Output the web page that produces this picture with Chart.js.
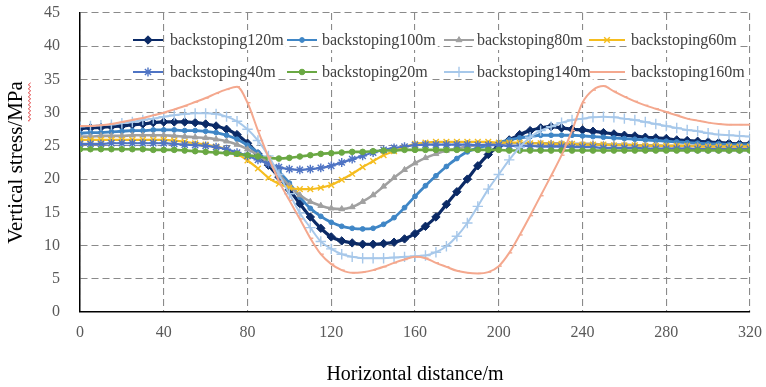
<!DOCTYPE html>
<html>
<head>
<meta charset="utf-8">
<script src="https://cdn.jsdelivr.net/npm/chart.js@4.4.1/dist/chart.umd.min.js"></script>
<style>
  html, body { margin: 0; padding: 0; background: #ffffff; }
  #wrap { width: 766px; height: 387px; }
</style>
</head>
<body>
<div id="wrap"><canvas id="c" width="766" height="387"></canvas></div>
<script>
// Horizontal distance along the working face (m)
const distance = [0,5,10,15,20,25,30,35,40,45,50,55,60,65,70,75,80,85,90,95,100,105,110,115,120,125,130,135,140,145,150,155,160,165,170,175,180,185,190,195,200,205,210,215,220,225,230,235,240,245,250,255,260,265,270,275,280,285,290,295,300,305,310,315,320];

// Vertical stress (MPa) for each backstoping length
const stress120 = [27.6,27.7,27.8,27.9, 28.0,28.2,28.3,28.5, 28.6,28.6,28.6,28.5, 28.3,28.0,27.5,26.7, 25.4,23.8,22.1,20.3, 18.4,16.3,14.3,12.6, 11.3,10.7,10.4,10.2, 10.2,10.3,10.5,11.0, 11.8,12.9,14.3,16.2, 18.1,20.0,22.0,23.7, 25.0,25.9,26.7,27.3, 27.7,27.9,27.7,27.5, 27.4,27.2,27.0,26.8, 26.6,26.5,26.3,26.2, 26.1,25.9,25.8,25.7, 25.6,25.5,25.4,25.3, 25.3];
const stress100 = [26.9,27.0,27.0,27.1, 27.2,27.3,27.3,27.4, 27.4,27.4,27.3,27.3, 27.2,27.0,26.6,26.0, 25.1,24.0,22.6,21.1, 19.4,17.3,15.6,14.4, 13.5,12.9,12.6,12.5, 12.6,13.2,14.2,15.7, 17.4,19.0,20.5,21.9, 23.1,24.1,24.7,25.1, 25.5,25.9,26.2,26.4, 26.6,26.6,26.6,26.6, 26.5,26.4,26.3,26.2, 26.1,26.0,25.9,25.8, 25.7,25.6,25.5,25.4, 25.3,25.3,25.2,25.2, 25.2];
const stress80  = [26.4,26.4,26.5,26.5, 26.5,26.6,26.6,26.6, 26.6,26.5,26.4,26.3, 26.2,26.0,25.7,25.2, 24.5,23.6,22.4,20.7, 19.0,17.6,16.6,16.0, 15.6,15.5,15.8,16.6, 17.6,18.9,20.2,21.4, 22.4,23.2,23.8,24.3, 24.6,24.9,25.1,25.2, 25.3,25.4,25.4,25.4, 25.4,25.4,25.4,25.3, 25.3,25.3,25.2,25.2, 25.2,25.1,25.1,25.1, 25.0,25.0,25.0,25.0, 24.9,24.9,24.9,24.9, 24.9];
const stress60  = [25.9,25.9,25.9,25.9, 25.9,25.9,25.9,25.9, 25.9,25.8,25.6,25.4, 25.2,24.9,24.5,23.8, 22.8,21.6,20.2,19.3, 18.7,18.5,18.5,18.7, 19.1,19.9,20.8,21.8, 22.7,23.6,24.2,24.8, 25.3,25.5,25.6,25.6, 25.6,25.6,25.6,25.6, 25.5,25.5,25.5,25.4, 25.4,25.3,25.3,25.3, 25.2,25.2,25.2,25.1, 25.1,25.1,25.0,25.0, 25.0,25.0,25.0,24.9, 24.9,24.9,24.9,24.9, 24.9];
const stress40  = [25.3,25.3,25.3,25.4, 25.4,25.4,25.4,25.4, 25.4,25.3,25.2,25.1, 25.0,24.8,24.5,24.0, 23.5,22.9,22.3,21.8, 21.5,21.4,21.5,21.7, 22.0,22.5,23.0,23.5, 24.0,24.4,24.7,24.9, 25.1,25.2,25.2,25.2, 25.2,25.2,25.1,25.1, 25.1,25.0,25.0,25.0, 24.9,24.9,24.9,24.8, 24.8,24.8,24.7,24.7, 24.7,24.7,24.6,24.6, 24.6,24.6,24.6,24.5, 24.5,24.5,24.5,24.5, 24.5];
const stress20  = [24.5,24.5,24.5,24.5, 24.5,24.5,24.5,24.4, 24.4,24.4,24.3,24.2, 24.1,24.0,23.9,23.8, 23.6,23.4,23.2,23.1, 23.2,23.4,23.6,23.8, 23.9,24.0,24.1,24.1, 24.2,24.3,24.3,24.4, 24.4,24.4,24.4,24.4, 24.4,24.4,24.4,24.4, 24.4,24.3,24.3,24.3, 24.3,24.3,24.3,24.3, 24.3,24.3,24.3,24.3, 24.3,24.3,24.3,24.3, 24.3,24.3,24.3,24.3, 24.3,24.3,24.3,24.3, 24.3];
const stress140 = [27.9,28.0,28.1,28.2, 28.4,28.6,28.9,29.1, 29.4,29.6,29.8,29.9, 29.9,29.8,29.4,28.7, 27.5,25.8,23.5,20.7, 17.8,14.9,12.7,10.6, 9.5,8.7,8.3,8.1, 8.1,8.1,8.2,8.3, 8.4,8.5,9.0,9.9, 11.4,13.4,15.9,18.5, 20.7,22.9,24.8,26.3, 27.3,27.9,28.5,28.9, 29.1,29.3,29.4,29.3, 29.1,28.9,28.6,28.3, 28.0,27.7,27.4,27.2, 26.9,26.7,26.6,26.5, 26.4];
const stress160 = [28.0,28.0,28.1,28.3, 28.6,28.9,29.2,29.6, 30.0,30.5,31.0,31.6, 32.2,32.9,33.5,33.9, 31.5,27.3,23.3,19.7, 16.8,14.0,11.1,8.7, 7.2,6.3,5.9,6.0, 6.3,6.8,7.4,7.9, 8.3,8.1,7.4,6.8, 6.2,5.9,5.8,6.0, 6.9,8.9,11.6,14.5, 17.5,20.5,23.6,27.3, 31.5,33.4,34.0,33.2, 32.4,31.7,31.1,30.6, 30.1,29.6,29.1,28.8, 28.5,28.3,28.2,28.2, 28.2];

const seriesNames = ['backstoping120m','backstoping100m','backstoping80m','backstoping60m',
                     'backstoping40m','backstoping20m','backstoping140m','backstoping160m'];
const xTickValues = [0,40,80,120,160,200,240,280,320];
const yTickValues = [0,5,10,15,20,25,30,35,40,45];

const FONT = '"Liberation Serif", "Times New Roman", serif';

// Line / marker appearance per series
const styles = [
  { color: '#0b2a66', marker: 'rectRot',  radius: 4.2, width: 3.2, fill: true  },
  { color: '#3f86c6', marker: 'circle',   radius: 2.4, width: 2.8, fill: true  },
  { color: '#a0a0a0', marker: 'triangle', radius: 3.4, width: 2.6, fill: true  },
  { color: '#f5bd1f', marker: 'crossRot', radius: 4.0, width: 2.2, fill: false },
  { color: '#4f74c4', marker: 'star',     radius: 4.4, width: 2.2, fill: false },
  { color: '#6aa843', marker: 'circle',   radius: 2.8, width: 2.6, fill: true  },
  { color: '#a7c8ea', marker: 'cross',    radius: 5.2, width: 2.0, fill: false },
  { color: '#f4a88e', marker: 'dash',     radius: 3.0, width: 2.0, fill: false }
];
const seriesValues = [stress120, stress100, stress80, stress60, stress40, stress20, stress140, stress160];

const datasets = seriesValues.map((vals, i) => ({
  label: seriesNames[i],
  data: distance.map((d, k) => ({ x: d, y: vals[k] })),
  borderColor: styles[i].color,
  backgroundColor: styles[i].color,
  borderWidth: styles[i].width,
  pointStyle: styles[i].marker,
  pointRadius: styles[i].radius,
  pointBackgroundColor: styles[i].fill ? styles[i].color : 'rgba(0,0,0,0)',
  pointBorderColor: styles[i].color,
  pointBorderWidth: styles[i].fill ? 1 : 1.4,
  cubicInterpolationMode: 'monotone',
  fill: false,
  order: seriesValues.length - i   // later series drawn on top
}));

// Legend drawn over the plot area in two rows of four
const overlayLegend = {
  id: 'overlayLegend',
  afterDatasetsDraw(chart, args, opts) {
    const ctx = chart.ctx;
    ctx.save();
    ctx.font = '16px ' + FONT;
    ctx.textBaseline = 'middle';
    ctx.textAlign = 'left';
    chart.data.datasets.forEach((ds, i) => {
      const slot = opts.slots[i];
      const y = opts.rows[slot[0]];
      const col = opts.cols[slot[1]];
      const w = ctx.measureText(ds.label).width;
      ctx.fillStyle = '#ffffff';
      ctx.fillRect(col.text - 2, y - 10, w + 4, 20);
      ctx.setLineDash([]);
      ctx.strokeStyle = ds.borderColor;
      ctx.lineWidth = Math.min(ds.borderWidth, 2);
      ctx.beginPath();
      ctx.moveTo(col.line[0], y);
      ctx.lineTo(col.line[1], y);
      ctx.stroke();
      ctx.fillStyle = ds.pointBackgroundColor;
      ctx.strokeStyle = ds.pointBorderColor;
      ctx.lineWidth = ds.pointBorderWidth;
      const cx = (col.line[0] + col.line[1]) / 2;
      if (Chart.helpers && Chart.helpers.drawPoint) {
        Chart.helpers.drawPoint(ctx, { pointStyle: ds.pointStyle, radius: ds.pointRadius, rotation: 0, borderWidth: ds.pointBorderWidth }, cx, y);
      }
      ctx.fillStyle = '#404040';
      ctx.fillText(ds.label, col.text, y + 1);
    });
    ctx.restore();
  }
};

// Spell-check style wavy underline beneath "MPa" in the vertical axis title
const titleSquiggle = {
  id: 'titleSquiggle',
  afterDraw(chart) {
    const ctx = chart.ctx;
    const yScale = chart.scales.y;
    const full = yScale.options.title.text;
    const size = yScale.options.title.font.size;
    ctx.save();
    ctx.font = size + 'px ' + FONT;
    const W = ctx.measureText(full).width;
    const wUnit = ctx.measureText('MPa').width;
    const cy = (chart.chartArea.top + chart.chartArea.bottom) / 2;
    const yEnd = cy - W / 2;
    const yStart = yEnd + wUnit;
    const x = 29.5;
    ctx.strokeStyle = '#e04848';
    ctx.lineWidth = 1;
    ctx.beginPath();
    let flip = 0;
    ctx.moveTo(x, yStart);
    for (let yy = yStart; yy >= yEnd; yy -= 2) {
      ctx.lineTo(x + (flip ? 1.2 : -1.2), yy);
      flip = 1 - flip;
    }
    ctx.stroke();
    ctx.restore();
  }
};

const gridCommon = { color: '#8a8a8a', lineWidth: 1.1, drawTicks: true, tickColor: 'rgba(0,0,0,0)' };
const borderCommon = { display: true, color: '#000000', width: 1.5, dash: [7, 4] };

new Chart(document.getElementById('c'), {
  type: 'line',
  data: { datasets },
  plugins: [overlayLegend, titleSquiggle],
  options: {
    responsive: false,
    animation: false,
    devicePixelRatio: 1,
    events: [],
    layout: { padding: { left: 0, right: 16, top: 13, bottom: 0 } },
    plugins: {
      legend: { display: false },
      tooltip: { enabled: false },
      overlayLegend: {
        rows: [40, 72],
        cols: [
          { line: [133, 163], text: 170 },
          { line: [287, 317], text: 322 },
          { line: [444, 474], text: 477 },
          { line: [589, 625], text: 631 }
        ],
        slots: [[0,0],[0,1],[0,2],[0,3],[1,0],[1,1],[1,2],[1,3]]
      }
    },
    scales: {
      x: {
        type: 'linear',
        min: 0, max: 320,
        afterBuildTicks(scale) { scale.ticks = xTickValues.map(v => ({ value: v })); },
        afterFit(scale) { scale.height = 75; },
        grid: Object.assign({ tickLength: 8 }, gridCommon),
        border: borderCommon,
        ticks: { font: { family: FONT, size: 16 }, color: '#595959', padding: 3, maxRotation: 0 },
        title: { display: true, text: 'Horizontal distance/m', color: '#000000',
                 font: { family: FONT, size: 20 }, padding: { top: 0, bottom: 0 } }
      },
      y: {
        type: 'linear',
        min: 0, max: 45,
        afterBuildTicks(scale) { scale.ticks = yTickValues.map(v => ({ value: v })); },
        afterFit(scale) { scale.width = 80; },
        grid: Object.assign({ tickLength: 17 }, gridCommon),
        border: borderCommon,
        ticks: { font: { family: FONT, size: 16 }, color: '#595959', padding: 3 },
        title: { display: true, text: 'Vertical stress/MPa', color: '#000000',
                 font: { family: FONT, size: 21 }, padding: { top: 4, bottom: 0 } }
      }
    }
  }
});
</script>
</body>
</html>
